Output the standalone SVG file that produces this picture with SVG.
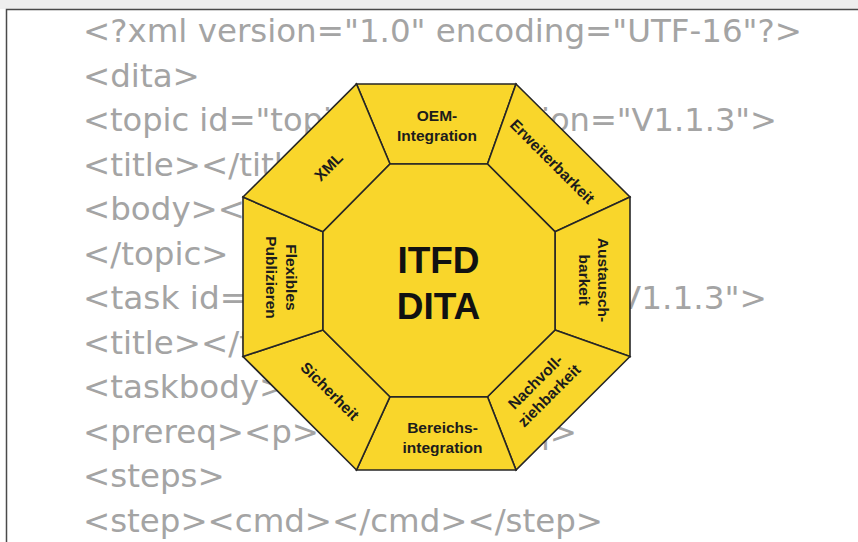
<svg xmlns="http://www.w3.org/2000/svg" width="858" height="542" viewBox="0 0 858 542">
<style>
.code{font-family:"DejaVu Sans","Liberation Sans",sans-serif;font-size:32.5px;fill:#a4a4a4}
.seg{fill:#F9D62B;stroke:#262626;stroke-width:1.6;stroke-linejoin:miter}
.lbl{font-family:"Liberation Sans",Arial,sans-serif;font-weight:bold;font-size:15.5px;fill:#1c1c1c;text-anchor:middle}
.big{font-family:"Liberation Sans",Arial,sans-serif;font-weight:bold;font-size:37px;fill:#111;text-anchor:middle}
</style>
<rect x="0" y="0" width="858" height="542" fill="#ffffff"/>
<rect x="0" y="0" width="858" height="9" fill="#eeeeee"/>
<path d="M6.5 542 V9.5 H858" fill="none" stroke="#4a4a4a" stroke-width="1.5"/>
<g id="code-background">
<text class="code" x="83" y="42" textLength="719" lengthAdjust="spacingAndGlyphs">&lt;?xml version="1.0" encoding="UTF-16"?&gt;</text>
<text class="code" x="83" y="86.5">&lt;dita&gt;</text>
<text class="code" x="83" y="131" textLength="694" lengthAdjust="spacingAndGlyphs">&lt;topic id="topic_1234" version="V1.1.3"&gt;</text>
<text class="code" x="83" y="175.5">&lt;title&gt;&lt;/title&gt;</text>
<text class="code" x="83" y="220">&lt;body&gt;&lt;/body&gt;</text>
<text class="code" x="83" y="264.5">&lt;/topic&gt;</text>
<text class="code" x="83" y="309" textLength="684" lengthAdjust="spacingAndGlyphs">&lt;task id="task_1234" version="V1.1.3"&gt;</text>
<text class="code" x="83" y="353.5">&lt;title&gt;&lt;/title&gt;</text>
<text class="code" x="83" y="398">&lt;taskbody&gt;</text>
<text class="code" x="83" y="442.5">&lt;prereq&gt;&lt;p&gt;&lt;/p&gt;&lt;/prereq&gt;</text>
<text class="code" x="83" y="487">&lt;steps&gt;</text>
<text class="code" x="83" y="531.5" textLength="520" lengthAdjust="spacingAndGlyphs">&lt;step&gt;&lt;cmd&gt;&lt;/cmd&gt;&lt;/step&gt;</text>
</g>
<g id="connectors"></g>
<g id="seg-oem">
<polygon class="seg" points="356.5,84 516,84 487.5,164 390,164"/>
<text class="lbl" x="437" y="120.5">OEM-</text>
<text class="lbl" x="437" y="141">Integration</text>
</g>
<g id="seg-erweiterbarkeit">
<polygon class="seg" points="516,84 630,197 555,231.7 487.5,164"/>
<text class="lbl" transform="translate(552.5,161.5) rotate(45)" x="0" y="5.5">Erweiterbarkeit</text>
</g>
<g id="seg-austausch">
<polygon class="seg" points="630,197 630,356.5 555,330 555,231.7"/>
<g transform="translate(594,280) rotate(90)">
<text class="lbl" x="0" y="-4">Austausch-</text>
<text class="lbl" x="0" y="15.5">barkeit</text>
</g>
</g>
<g id="seg-nachvollziehbarkeit">
<polygon class="seg" points="630,356.5 516,470 487.5,396.7 555,330"/>
<g transform="translate(542,388.5) rotate(-45)">
<text class="lbl" x="0" y="-4">Nachvoll-</text>
<text class="lbl" x="0" y="15.5">ziehbarkeit</text>
</g>
</g>
<g id="seg-bereich">
<polygon class="seg" points="516,470 356.5,470 390,396.7 487.5,396.7"/>
<text class="lbl" x="442.5" y="432.5">Bereichs-</text>
<text class="lbl" x="442.5" y="452.5">integration</text>
</g>
<g id="seg-sicherheit">
<polygon class="seg" points="356.5,470 243,356.5 323,330 390,396.7"/>
<text class="lbl" transform="translate(330,391) rotate(45)" x="0" y="5.5">Sicherheit</text>
</g>
<g id="seg-publizieren">
<polygon class="seg" points="243,356.5 243,197 323,231.7 323,330"/>
<g transform="translate(282,277.5) rotate(90)">
<text class="lbl" x="0" y="-4">Flexibles</text>
<text class="lbl" x="0" y="16">Publizieren</text>
</g>
</g>
<g id="seg-xml">
<polygon class="seg" points="243,197 356.5,84 390,164 323,231.7"/>
<text class="lbl" transform="translate(328.5,166.5) rotate(-45)" x="0" y="5.5">XML</text>
</g>
<g id="center-itfd-dita">
<polygon class="seg" points="390,164 487.5,164 555,231.7 555,330 487.5,396.7 390,396.7 323,330 323,231.7"/>
<text class="big" x="438.5" y="272.5">ITFD</text>
<text class="big" x="438.5" y="318.5">DITA</text>
</g>
</svg>
